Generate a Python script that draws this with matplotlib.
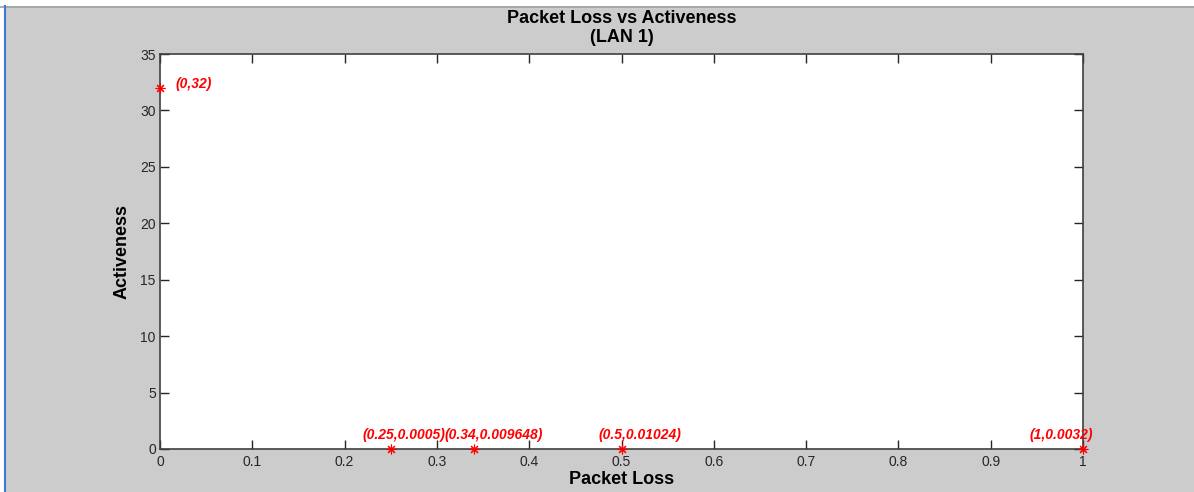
import matplotlib
matplotlib.use("Agg")
import matplotlib.pyplot as plt
from matplotlib.lines import Line2D

# Measured packet loss vs activeness for LAN 1
packet_loss = [0, 0.25, 0.34, 0.5, 1]
activeness = [32, 0.0005, 0.009648, 0.01024, 0.0032]
point_labels = ["(0,32)", "(0.25,0.0005)", "(0.34,0.009648)", "(0.5,0.01024)", "(1,0.0032)"]
# label placement relative to each marker, in pixels
label_offsets = [(16, 4), (-28, 14), (-29, 14), (-23, 14), (-53, 14)]

x_ticks = [0, 0.1, 0.2, 0.3, 0.4, 0.5, 0.6, 0.7, 0.8, 0.9, 1]
x_ticklabels = ["0", "0.1", "0.2", "0.3", "0.4", "0.5", "0.6", "0.7", "0.8", "0.9", "1"]
y_ticks = [0, 5, 10, 15, 20, 25, 30, 35]

plt.rcParams["font.family"] = ["Liberation Sans", "DejaVu Sans"]

W, H = 1194, 492
fig = plt.figure(figsize=(W / 100, H / 100), dpi=100, facecolor="#cccccc")
ax = fig.add_axes([160 / W, 1 - 449 / H, (1083 - 160) / W, (449 - 54) / H])
ax.set_facecolor("white")

# window frame: white strip at top and left, with thin edge lines
fig.patches.append(plt.Rectangle((0, 1 - 6 / H), 1, 6 / H, transform=fig.transFigure,
                                 facecolor="white", edgecolor="none", zorder=0))
fig.patches.append(plt.Rectangle((0, 0), 4 / W, 1, transform=fig.transFigure,
                                 facecolor="white", edgecolor="none", zorder=0))
fig.lines.append(Line2D([0, 1], [1 - 6.5 / H, 1 - 6.5 / H], transform=fig.transFigure,
                        color="#a0a0a0", lw=1.2))
fig.lines.append(Line2D([4.5 / W, 4.5 / W], [0, 1 - 6 / H], transform=fig.transFigure,
                        color="#3c78d8", lw=1.5))

# asterisk markers (plus and cross overlaid)
ax.plot(packet_loss, activeness, linestyle="none", marker=(8, 2, 0), color="red",
        markersize=7, markeredgewidth=0.8, clip_on=False, zorder=5)

for x, y, lab, (dx, dy) in zip(packet_loss, activeness, point_labels, label_offsets):
    ax.annotate(lab, (x, y), xytext=(dx, dy), textcoords="offset pixels",
                ha="left", va="center", color="red", fontsize=10,
                fontweight="bold", fontstyle="italic", annotation_clip=False)

ax.set_xlim(0, 1)
ax.set_ylim(0, 35)
ax.set_xticks(x_ticks)
ax.set_xticklabels(x_ticklabels)
ax.set_yticks(y_ticks)

ax.tick_params(direction="in", length=6.5, width=1, color="#262626",
               top=True, right=True, labelsize=10, labelcolor="#262626")
ax.tick_params(axis="x", pad=4)
ax.tick_params(axis="y", pad=3)
for s in ax.spines.values():
    s.set_color("#404040")
    s.set_linewidth(1.2)

ax.set_xlabel("Packet Loss", fontsize=13, fontweight="bold", labelpad=1.5)
ax.set_ylabel("Activeness", fontsize=13, fontweight="bold", labelpad=7)
fig.text(621.5 / W, 1 - 28 / H, "Packet Loss vs Activeness\n(LAN 1)", ha="center",
         va="center", fontsize=13, fontweight="bold", linespacing=1.12)

fig.savefig("out.png", dpi=100, facecolor=fig.get_facecolor())
